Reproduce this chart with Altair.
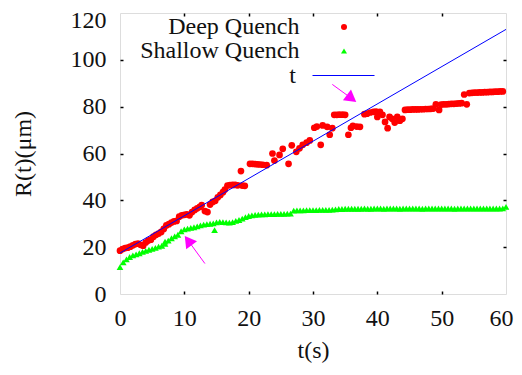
import altair as alt
import pandas as pd

# ---------------- data ----------------
deep_t = [0.0, 0.4, 0.8, 1.2, 1.6, 2.0, 2.4, 2.8, 3.2, 3.6, 4.0, 4.4, 4.8, 5.2, 5.6, 6.0, 6.4, 6.8,
          7.2, 7.6, 8.0, 8.4, 8.8, 9.2, 9.6, 10.0, 10.4, 10.8, 11.2, 11.6, 12.0, 12.4, 12.7, 13.2,
          13.6, 14.0, 14.4, 14.8, 15.2, 15.6, 16.0, 16.3, 16.7, 17.1, 17.5, 17.9, 18.3, 18.8, 19.0,
          19.4, 20.2, 20.6, 21.0, 21.4, 21.8, 22.2, 22.8, 23.7, 24.0, 24.8, 25.3, 26.2, 26.7, 27.4,
          27.9, 28.4, 29.0, 29.5, 30.2, 30.6, 31.2, 31.5, 32.2, 32.6, 33.0, 33.3, 33.7, 34.1, 34.6,
          35.0, 35.5, 35.9, 36.2, 36.8, 37.3, 38.0, 38.4, 38.9, 39.4, 39.8, 40.0, 40.4, 40.8, 41.2,
          41.6, 41.9, 42.3, 42.7, 43.1, 43.5, 43.9, 44.3, 44.7, 45.1, 45.5, 45.9, 46.3, 46.7, 47.1,
          47.5, 47.9, 48.3, 48.7, 49.1, 49.6, 49.9, 50.3, 50.7, 51.1, 51.5, 51.9, 52.3, 52.7, 53.1,
          53.5, 53.9, 54.3, 54.7, 55.1, 55.5, 55.9, 56.3, 56.7, 57.1, 57.5, 57.9, 58.3, 58.7, 59.1,
          59.5]
deep_R = [18.5, 19.2, 19.6, 19.8, 20.2, 20.8, 21.3, 21.5, 21.0, 20.6, 22.0, 22.8, 23.2, 24.5, 25.3,
          25.8, 26.5, 27.8, 29.3, 29.8, 30.5, 31.0, 31.2, 33.0, 33.6, 33.8, 34.0, 33.6, 35.0, 35.9,
          36.6, 37.2, 38.0, 35.4, 35.0, 38.2, 39.3, 39.8, 41.3, 42.3, 43.5, 44.6, 46.3, 46.5, 46.6,
          46.6, 46.4, 52.5, 46.3, 46.2, 55.6, 55.6, 55.5, 55.4, 55.3, 55.2, 55.0, 60.0, 57.0, 59.4,
          62.0, 55.6, 63.5, 60.7, 62.2, 63.7, 64.6, 65.6, 71.0, 71.5, 63.7, 72.0, 71.4, 68.0, 70.8,
          76.5, 76.5, 76.6, 76.6, 76.5, 68.0, 71.0, 71.8, 71.5, 71.4, 76.8, 77.0, 77.5, 77.8, 77.9,
          75.6, 77.8, 76.5, 73.5, 70.8, 75.6, 74.8, 73.2, 75.6, 74.0, 74.8, 78.6, 78.7, 78.7, 78.8,
          78.8, 78.8, 78.9, 78.9, 79.0, 79.0, 79.1, 79.2, 81.0, 78.6, 80.9, 81.0, 81.0, 81.1, 81.2,
          81.2, 81.3, 81.4, 81.5, 85.2, 81.0, 85.8, 85.9, 86.0, 86.0, 86.1, 86.1, 86.2, 86.2, 86.3,
          86.3, 86.4, 86.4, 86.5, 86.5]

shallow_t = [0.0, 0.5, 1.0, 1.5, 2.0, 2.5, 3.0, 3.5, 4.0, 4.5, 5.0, 5.5, 6.0, 6.5, 7.0, 7.0, 7.5,
             8.0, 8.5, 9.0, 9.5, 10.0, 10.5, 11.0, 11.5, 12.0, 12.5, 13.0, 13.5, 14.0, 14.5, 14.7,
             15.0, 15.5, 16.0, 16.5, 17.0, 17.5, 18.0, 18.5, 19.0, 19.5, 20.0, 20.5, 21.0, 21.5,
             22.0, 22.5, 23.0, 23.5, 24.0, 24.5, 25.0, 25.5, 26.0, 26.5, 27.0, 27.5, 28.0, 28.5,
             29.0, 29.5, 30.0, 30.5, 31.0, 31.5, 32.0, 32.5, 33.0, 33.5, 34.0, 34.5, 35.0, 35.5,
             36.0, 36.5, 37.0, 37.5, 38.0, 38.5, 39.0, 39.5, 40.0, 40.5, 41.0, 41.5, 42.0, 42.5,
             43.0, 43.5, 44.0, 44.5, 45.0, 45.5, 46.0, 46.5, 47.0, 47.5, 48.0, 48.5, 49.0, 49.5,
             50.0, 50.5, 51.0, 51.5, 52.0, 52.5, 53.0, 53.5, 54.0, 54.5, 55.0, 55.5, 56.0, 56.5,
             57.0, 57.5, 58.0, 58.5, 59.0, 59.5, 60.0]
shallow_R = [11.5, 13.5, 14.8, 15.8, 16.5, 16.9, 17.4, 18.0, 18.4, 18.9, 19.3, 19.7, 20.2, 20.6,
             21.4, 22.4, 22.8, 23.8, 24.6, 25.3, 26.8, 27.6, 27.9, 28.2, 28.5, 28.9, 29.3, 29.6,
             29.8, 30.0, 30.2, 27.3, 30.6, 30.8, 30.7, 30.6, 30.5, 30.7, 31.2, 31.6, 32.2, 32.8,
             33.3, 33.6, 33.8, 33.9, 34.0, 34.0, 34.1, 34.1, 34.1, 34.2, 34.2, 34.2, 34.3, 34.3,
             35.6, 35.7, 35.7, 35.7, 35.8, 35.8, 35.8, 35.8, 35.9, 35.9, 35.9, 35.9, 36.0, 36.1,
             36.3, 36.3, 36.4, 36.4, 36.4, 36.4, 36.4, 36.4, 36.5, 36.4, 36.4, 36.5, 36.5, 36.5,
             36.4, 36.5, 36.5, 36.5, 36.5, 36.4, 36.5, 36.5, 36.5, 36.5, 36.5, 36.5, 36.4, 36.5,
             36.5, 36.5, 36.5, 36.5, 36.5, 36.5, 36.5, 36.5, 36.4, 36.5, 36.5, 36.5, 36.5, 36.5,
             36.5, 36.5, 36.5, 36.5, 36.5, 36.5, 36.5, 36.5, 36.5, 36.6, 37.2]

line_t = [0, 60]
line_R = [17.5, 113.0]

# annotation arrows (tail -> head centre), arrowhead angle in degrees
arrow_t = [33.0, 13.2]
arrow_R = [89.5, 13.0]
arrow_t2 = [36.0, 10.6]
arrow_R2 = [83.5, 22.8]
arrow_angle = [127, 324]

series_names = ["Deep Quench", "Shallow Quench"]
line_name = "t"

# ---------------- tables ----------------
pts = pd.DataFrame({
    "t": deep_t + shallow_t,
    "R": deep_R + shallow_R,
    "series": [series_names[0]] * len(deep_t) + [series_names[1]] * len(shallow_t),
    "order": list(range(len(deep_t) + len(shallow_t))),
})
lin = pd.DataFrame({"t": line_t, "R": line_R, "name": [line_name] * len(line_t)})
arr = pd.DataFrame({"t": arrow_t, "R": arrow_R, "t2": arrow_t2, "R2": arrow_R2, "ang": arrow_angle})

W, H = 386, 281
FONT = "Liberation Serif"
FS = 24
xs = alt.Scale(domain=[0, 60], nice=False, zero=False)
ys = alt.Scale(domain=[0, 120], nice=False, zero=False)


def inward(orient, offset, values):
    return alt.Axis(orient=orient, offset=offset, values=values, labels=False, domain=False,
                    grid=False, ticks=True, tickSize=3, tickWidth=1.5, tickColor="black", title=None)


x_main = alt.Axis(orient="bottom", values=[0, 10, 20, 30, 40, 50, 60], title="t(s)", grid=False,
                  domain=False, ticks=False, labelFont=FONT, labelFontSize=FS, labelColor="#111",
                  labelPadding=12, labelFlush=False,
                  labelOffset={"condition": {"test": "datum.value == 60", "value": -5}, "value": 0},
                  titleFont=FONT, titleFontSize=FS,
                  titleFontWeight="normal", titleColor="#111", titlePadding=8)
y_main = alt.Axis(orient="left", values=[0, 20, 40, 60, 80, 100, 120], title="R(t)(μm)", grid=False,
                  domain=False, ticks=False, labelFont=FONT, labelFontSize=FS, labelColor="#111",
                  labelPadding=14, labelFlush=False,
                  labelOffset={"condition": {"test": "datum.value == 120", "value": 7}, "value": 0},
                  titleFont=FONT, titleFontSize=FS,
                  titleFontWeight="normal", titleColor="#111", titlePadding=35)

leg_pts = alt.Legend(title=None, orient="none", legendX=212, legendY=2, padding=0,
                     rowPadding={"expr": "-2.5"},
                     labelFont=FONT, labelFontSize=FS, labelColor="#111", labelAlign="right",
                     labelOffset={"expr": "-56.5"}, labelLimit=400, symbolSize=36,
                     symbolStrokeWidth=0)

points = alt.Chart(pts).mark_point(filled=True, size=45, opacity=1).encode(
    x=alt.X("t:Q", scale=xs, axis=x_main),
    y=alt.Y("R:Q", scale=ys, axis=y_main),
    color=alt.Color("series:N", scale=alt.Scale(domain=series_names, range=["#ff0000", "#00ff00"]),
                    legend=leg_pts),
    shape=alt.Shape("series:N", scale=alt.Scale(domain=series_names, range=["circle", "triangle-up"]),
                    legend=leg_pts),
    order=alt.Order("order:Q"),
)

line = alt.Chart(lin).mark_line(strokeWidth=1).encode(
    x=alt.X("t:Q", scale=xs, axis=inward("top", -H, [10, 20, 30, 40, 50])),
    y=alt.Y("R:Q", scale=ys, axis=inward("right", -W, [20, 40, 60, 80, 100])),
    stroke=alt.Stroke("name:N", scale=alt.Scale(domain=[line_name], range=["#0000ff"]),
                      legend=alt.Legend(title=None, orient="none", legendX=192, legendY=31, padding=0,
                                        labelFont=FONT, labelFontSize=FS, labelColor="#111",
                                        labelAlign="right", labelOffset={"expr": "-79"},
                                        labelLimit=400, symbolType="stroke", symbolSize=3844,
                                        symbolStrokeWidth=1)),
)

rules = alt.Chart(arr).mark_rule(color="#ff00ff", strokeWidth=1).encode(
    x=alt.X("t:Q", scale=xs, axis=inward("bottom", -H, [10, 20, 30, 40, 50])),
    y=alt.Y("R:Q", scale=ys, axis=inward("left", -W, [20, 40, 60, 80, 100])),
    x2="t2:Q",
    y2="R2:Q",
)

heads = alt.Chart(arr).mark_point(shape="triangle-up", filled=True, size=180, color="#ff00ff",
                                  opacity=1).encode(
    x=alt.X("t2:Q", scale=xs, axis=None),
    y=alt.Y("R2:Q", scale=ys, axis=None),
    angle=alt.Angle("ang:Q", scale=None),
)

chart = alt.layer(points, line, rules, heads).resolve_axis(
    x="independent", y="independent"
).properties(
    width=W, height=H,
    autosize=alt.AutoSizeParams(type="none"),
    padding={"left": 112, "top": 5, "right": 8, "bottom": 72},
).configure_view(
    stroke="black", strokeWidth=3
).configure(background="white")

chart.save("out.html", embed_options={"renderer": "svg", "actions": False})
